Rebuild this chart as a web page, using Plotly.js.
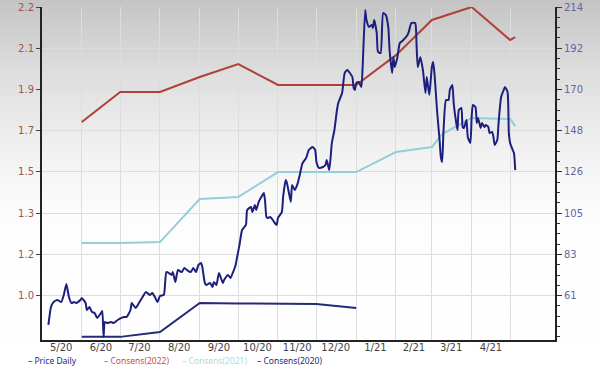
<!DOCTYPE html>
<html>
<head>
<meta charset="utf-8">
<script src="https://cdn.plot.ly/plotly-3.0.1.min.js"></script>
<style>
  html, body { margin: 0; padding: 0; }
  body { width: 600px; height: 366px; overflow: hidden;
    background: linear-gradient(to bottom, #c4c4c4 0%, #dedede 20%, #f2f2f2 42%, #fdfdfd 60%, #ffffff 100%); }
  #chart { width: 600px; height: 366px; }
</style>
</head>
<body>
<div id="chart"></div>
<script>
// ---- Price Daily (right axis) ----
const priceDates = [
 "2020-05-06","2020-05-08","2020-05-10","2020-05-13","2020-05-16","2020-05-18","2020-05-20","2020-05-22","2020-05-24","2020-05-26",
 "2020-05-28","2020-05-29","2020-05-31","2020-06-01","2020-06-04","2020-06-05","2020-06-07","2020-06-09","2020-06-11","2020-06-13",
 "2020-06-16","2020-06-17","2020-06-18","2020-06-19","2020-06-21","2020-06-24","2020-06-26","2020-06-29","2020-07-02","2020-07-04",
 "2020-07-06","2020-07-09","2020-07-10","2020-07-13","2020-07-16","2020-07-18","2020-07-21","2020-07-24","2020-07-26","2020-07-28",
 "2020-07-30","2020-08-01","2020-08-04","2020-08-05","2020-08-06","2020-08-08","2020-08-10","2020-08-11","2020-08-13","2020-08-15",
 "2020-08-18","2020-08-20","2020-08-22","2020-08-25","2020-08-27","2020-08-29","2020-08-31","2020-09-02","2020-09-03","2020-09-05",
 "2020-09-06","2020-09-09","2020-09-11","2020-09-12","2020-09-14","2020-09-16","2020-09-19","2020-09-20","2020-09-23","2020-09-25",
 "2020-09-27","2020-09-29","2020-09-30","2020-10-02","2020-10-04","2020-10-07","2020-10-08","2020-10-11","2020-10-12","2020-10-14",
 "2020-10-15","2020-10-17","2020-10-19","2020-10-21","2020-10-22","2020-10-23","2020-10-24","2020-10-26","2020-10-28","2020-10-29",
 "2020-10-31","2020-11-01","2020-11-04","2020-11-05","2020-11-07","2020-11-08","2020-11-11","2020-11-12","2020-11-14","2020-11-16",
 "2020-11-18","2020-11-20","2020-11-23","2020-11-25","2020-11-28","2020-11-30","2020-12-01","2020-12-03","2020-12-06","2020-12-08",
 "2020-12-09","2020-12-11","2020-12-13","2020-12-15","2020-12-17","2020-12-18","2020-12-21","2020-12-23","2020-12-25","2020-12-29",
 "2020-12-30","2020-12-31","2021-01-01","2021-01-03","2021-01-05","2021-01-06","2021-01-08","2021-01-09","2021-01-11","2021-01-13",
 "2021-01-14","2021-01-15","2021-01-17","2021-01-18","2021-01-20","2021-01-22","2021-01-24","2021-01-26","2021-01-27","2021-01-29",
 "2021-01-30","2021-01-31","2021-02-02","2021-02-04","2021-02-06","2021-02-10","2021-02-11","2021-02-13","2021-02-16","2021-02-17",
 "2021-02-18","2021-02-20","2021-02-22","2021-02-24","2021-02-25","2021-02-27","2021-03-01","2021-03-02","2021-03-03","2021-03-05",
 "2021-03-07","2021-03-08","2021-03-09","2021-03-10","2021-03-12","2021-03-14","2021-03-15","2021-03-17","2021-03-18","2021-03-20",
 "2021-03-21","2021-03-22","2021-03-24","2021-03-25","2021-03-26","2021-03-28","2021-03-29","2021-03-31","2021-04-01","2021-04-02",
 "2021-04-04","2021-04-05","2021-04-06","2021-04-08","2021-04-09","2021-04-11","2021-04-12","2021-04-14","2021-04-15","2021-04-17",
 "2021-04-18","2021-04-19","2021-04-21","2021-04-22","2021-04-24","2021-04-26","2021-04-27","2021-04-29","2021-04-30","2021-05-01",
 "2021-05-03","2021-05-04","2021-05-05"
];
const priceValues = [
 45.5,55.0,57.6,58.7,57.6,61.4,67.2,60.3,57.1,57.6,
 57.1,57.6,58.7,59.8,57.1,53.4,55.0,52.3,51.8,49.2,
 51.8,52.9,39.1,47.0,46.5,47.0,46.5,48.1,49.2,49.7,
 49.7,53.4,57.1,54.5,57.6,59.8,63.0,61.4,62.4,60.3,
 57.6,60.8,61.4,67.7,73.5,73.0,72.0,73.5,68.3,74.6,
 73.5,75.7,74.6,73.5,75.7,73.5,77.3,78.3,76.2,67.7,
 66.7,67.7,65.6,68.3,66.7,73.0,67.7,69.3,72.0,70.4,
 73.5,77.3,81.0,87.9,95.8,98.5,106.4,108.0,105.3,109.0,
 106.4,110.7,113.3,115.4,110.7,102.7,102.2,102.7,101.1,100.0,
 98.5,102.2,105.3,113.3,122.3,120.7,110.7,119.7,117.0,119.7,
 125.0,131.0,134.0,138.2,139.8,138.2,131.9,128.7,129.2,130.3,
 132.9,127.6,141.9,148.8,159.4,163.1,168.4,179.0,180.6,176.9,
 171.1,170.0,173.7,174.3,171.6,182.2,212.4,207.1,203.4,204.5,
 202.9,207.1,200.2,190.2,189.6,210.8,209.8,203.4,191.2,179.0,
 187.5,182.2,187.0,194.9,196.0,199.2,200.8,205.5,205.5,194.9,
 182.2,187.5,180.6,168.4,176.9,167.4,182.2,184.9,179.0,159.4,
 143.5,134.5,131.9,147.2,164.7,164.7,170.0,172.7,163.1,152.5,
 148.8,159.4,160.5,150.4,149.9,154.1,145.1,141.9,155.7,162.1,
 161.0,152.5,155.2,149.9,152.5,150.4,151.5,150.4,147.2,147.8,
 145.1,140.9,143.5,152.5,166.3,170.0,171.6,169.0,147.2,141.9,
 138.2,136.6,127.6
];

// ---- Consensus estimates (left axis) ----
const cons2022Dates = ["2020-06-01","2020-07-01","2020-08-01","2020-09-01","2020-10-01","2020-11-01","2020-12-01","2021-01-01","2021-02-01","2021-03-01","2021-04-01","2021-05-01","2021-05-05"];
const cons2022Values = [1.722,1.847,1.847,1.909,1.963,1.876,1.876,1.876,2.000,2.146,2.200,2.063,2.075];

const cons2021Dates = ["2020-06-01","2020-07-01","2020-08-01","2020-09-01","2020-10-01","2020-11-01","2020-12-01","2021-01-01","2021-02-01","2021-03-01","2021-03-09","2021-04-01","2021-05-01","2021-05-05"];
const cons2021Values = [1.219,1.219,1.223,1.402,1.410,1.514,1.514,1.514,1.597,1.618,1.672,1.739,1.735,1.705];

const cons2020Dates = ["2020-06-01","2020-07-01","2020-08-01","2020-09-01","2020-10-01","2020-11-01","2020-12-01","2021-01-01"];
const cons2020Values = [0.829,0.829,0.849,0.970,0.968,0.966,0.966,0.949];

// ---- Axis ticks & legend labels ----
const leftTickVals = [2.2, 2.0286, 1.8571, 1.6857, 1.5143, 1.3429, 1.1714, 1.0];
const leftTickText = ["2.2","2.1","1.9","1.7","1.5","1.3","1.2","1.0"];
const rightTickVals = [214, 192.14, 170.29, 148.43, 126.57, 104.71, 82.86, 61];
const rightTickText = ["214","192","170","148","126","105","83","61"];
const monthLabelDates = ["2020-05-16","2020-06-16","2020-07-16","2020-08-16","2020-09-16","2020-10-16","2020-11-16","2020-12-16","2021-01-16","2021-02-15","2021-03-16","2021-04-16"];
const monthLabels = ["5/20","6/20","7/20","8/20","9/20","10/20","11/20","12/20","1/21","2/21","3/21","4/21"];
const monthStarts = ["2020-06-01","2020-07-01","2020-08-01","2020-09-01","2020-10-01","2020-11-01","2020-12-01","2021-01-01","2021-02-01","2021-03-01","2021-04-01","2021-05-01"];
const legendNames = ["Price Daily", "Consens(2022)", "Consens(2021)", "Consens(2020)"];

const NAVY = "#1d1f7e", RED = "#b0403a", LBLUE = "#92cfdb", NAVY2 = "#242a78";
const legendColors = [NAVY, "#c0504a", "#a9dce6", NAVY2];
const legendX = [-0.029, 0.119, 0.271, 0.417];
const FONT = "DejaVu Sans";

const traces = [
  {x: cons2022Dates, y: cons2022Values, yaxis: "y", mode: "lines", line: {color: RED, width: 2}, name: legendNames[1], hoverinfo: "skip"},
  {x: cons2021Dates, y: cons2021Values, yaxis: "y", mode: "lines", line: {color: LBLUE, width: 2}, name: legendNames[2], hoverinfo: "skip"},
  {x: cons2020Dates, y: cons2020Values, yaxis: "y", mode: "lines", line: {color: NAVY2, width: 2}, name: legendNames[3], hoverinfo: "skip"},
  {x: priceDates, y: priceValues, yaxis: "y2", mode: "lines", line: {color: NAVY, width: 2, shape: "spline", smoothing: 0.5}, name: legendNames[0], hoverinfo: "skip"}
];

const annotations = legendNames.map(function (n, i) {
  return {xref: "paper", yref: "paper", x: legendX[i], y: -0.0615, xanchor: "left", yanchor: "middle",
    showarrow: false, borderpad: 0, text: "\u2013 " + n, font: {family: "Noto Sans", size: 8.5, color: legendColors[i]}};
});

const layout = {
  width: 600, height: 366,
  margin: {l: 42, r: 45, t: 7, b: 26, autoexpand: false},
  paper_bgcolor: "rgba(0,0,0,0)", plot_bgcolor: "rgba(0,0,0,0)",
  font: {family: FONT, size: 10, color: "#444"},
  showlegend: false,
  annotations: annotations,
  xaxis: {type: "date", range: ["2020-05-01", "2021-06-05"],
    tickmode: "array", tickvals: monthLabelDates, ticktext: monthLabels, ticks: "",
    ticklabelstandoff: -3,
    showgrid: false, zeroline: false,
    showline: true, linecolor: "#222", linewidth: 2,
    tickfont: {family: FONT, size: 10, color: "#444"},
    minor: {tickmode: "array", tickvals: monthStarts, showgrid: true, gridcolor: "#dddddd", gridwidth: 1, ticks: ""}},
  yaxis: {range: [0.816, 2.2], tickmode: "array", tickvals: leftTickVals, ticktext: leftTickText,
    showline: true, linecolor: "#222", linewidth: 2, ticks: "outside", ticklen: 4, tickcolor: "#444",
    showgrid: true, gridcolor: "#dddddd", gridwidth: 1, zeroline: false,
    tickfont: {family: FONT, size: 10, color: "#9a5555"}},
  yaxis2: {range: [37.5, 214], overlaying: "y", side: "right", tickmode: "array", tickvals: rightTickVals, ticktext: rightTickText,
    showline: true, linecolor: "#222", linewidth: 2, ticks: "outside", ticklen: 5, tickcolor: "#333",
    showgrid: false, zeroline: false,
    minor: {tickmode: "linear", tick0: 61, dtick: 5.4643, ticks: "outside", ticklen: 3, tickcolor: "#333", showgrid: false},
    tickfont: {family: FONT, size: 10, color: "#6565a5"}}
};

Plotly.newPlot("chart", traces, layout, {staticPlot: true, displayModeBar: false});
</script>
</body>
</html>
